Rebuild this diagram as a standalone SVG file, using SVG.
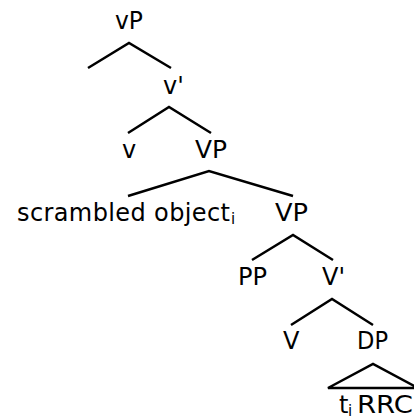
<svg xmlns="http://www.w3.org/2000/svg" width="414" height="417" viewBox="0 0 414 417">
<style>
text{font-family:"DejaVu Sans","Liberation Sans",sans-serif;font-size:24px;fill:#000}
.sub{font-size:15px}
.edge{stroke:#000;stroke-width:2.5;fill:none;stroke-linecap:butt;stroke-linejoin:miter}
</style>
<rect width="414" height="417" fill="#fff"/>
<g id="connectors">
<polyline class="edge" points="88,68 129,43 171,68"/>
<polyline class="edge" points="128,133 169,107 211,133"/>
<polyline class="edge" points="128,196 209,171 293,196"/>
<polyline class="edge" points="252,260 293,235 333,260"/>
<polyline class="edge" points="291,325 332,299 373,325"/>
<polygon class="edge" points="328,388 373,364 418,388"/>
</g>
<g id="vP"><text x="115" y="29" textLength="28" lengthAdjust="spacingAndGlyphs">vP</text></g>
<g id="vbar"><text x="163" y="94">v'</text></g>
<g id="v"><text x="122" y="158">v</text></g>
<g id="VP1"><text x="195" y="158" textLength="32" lengthAdjust="spacingAndGlyphs">VP</text></g>
<g id="scrambled"><text x="17" y="221" textLength="213" lengthAdjust="spacing">scrambled object</text><text class="sub" x="231" y="224">i</text></g>
<g id="VP2"><text x="275" y="221" textLength="33" lengthAdjust="spacingAndGlyphs">VP</text></g>
<g id="PP"><text x="238" y="285" textLength="29" lengthAdjust="spacingAndGlyphs">PP</text></g>
<g id="Vbar"><text x="322" y="285">V'</text></g>
<g id="V"><text x="283" y="349">V</text></g>
<g id="DP"><text x="357" y="349" textLength="31" lengthAdjust="spacingAndGlyphs">DP</text></g>
<g id="tRRC"><text x="339" y="413">t</text><text class="sub" x="348" y="416">i</text><text x="357" y="413" textLength="56" lengthAdjust="spacingAndGlyphs">RRC</text></g>
</svg>
